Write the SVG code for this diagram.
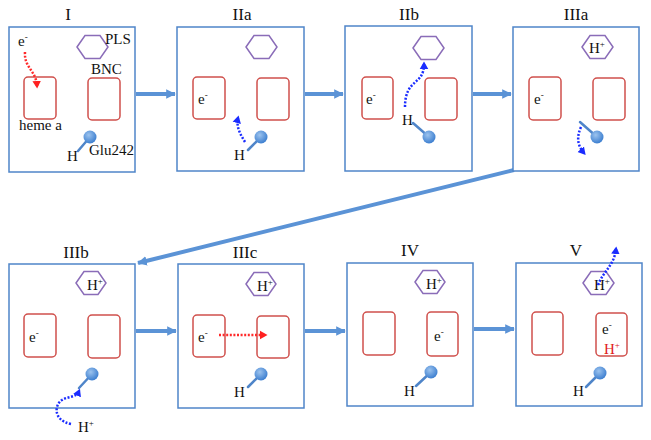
<svg xmlns="http://www.w3.org/2000/svg" width="651" height="440" viewBox="0 0 651 440">
<defs>
<radialGradient id="ballg" cx="0.4" cy="0.35" r="0.65">
<stop offset="0" stop-color="#9cc3ee"/>
<stop offset="1" stop-color="#3d7fd0"/>
</radialGradient>
<marker id="bigArrow" markerWidth="4" markerHeight="4" refX="2.2" refY="2" orient="auto" markerUnits="strokeWidth">
<path d="M0,0.8 L2.4,2 L0,3.2 z" fill="#5b93d6"/>
</marker>
<marker id="redHead" markerWidth="4" markerHeight="4" refX="2" refY="2" orient="auto" markerUnits="strokeWidth">
<path d="M0,0.3 L3,2 L0,3.7 z" fill="#ff2020"/>
</marker>
<marker id="blueHead" markerWidth="4" markerHeight="4" refX="2" refY="2" orient="auto" markerUnits="strokeWidth">
<path d="M0,0.3 L3,2 L0,3.7 z" fill="#1a2cff"/>
</marker>
</defs>
<style>
.panel{fill:#fff;stroke:#4f85c9;stroke-width:1.5}
.heme{fill:none;stroke:#d0504c;stroke-width:1.5}
.hex{fill:none;stroke:#8a6cb8;stroke-width:1.5}
.t{font-family:"Liberation Serif","Times New Roman",serif;fill:#111}
.title{font-size:17px;text-anchor:middle}
.lab{font-size:15px}
.sup{font-size:9px}
.ball{fill:url(#ballg)}
.stick{stroke:#4f85c9;stroke-width:2.5;stroke-linecap:round}
.flow{stroke:#5b93d6;stroke-width:4;fill:none;marker-end:url(#bigArrow)}
.rdot{fill:none;stroke:#ff2a2a;stroke-width:2.5;stroke-dasharray:2 1.6;marker-end:url(#redHead)}
.bdot{fill:none;stroke:#1a2cff;stroke-width:2.5;stroke-dasharray:2 1.6;marker-end:url(#blueHead)}
.red{fill:#e02020}
</style>

<g id="connectors">
<line class="flow" x1="136" y1="94" x2="175" y2="94"/>
<line class="flow" x1="305" y1="94" x2="343" y2="94"/>
<line class="flow" x1="473" y1="94" x2="511" y2="94"/>
<line class="flow" x1="514" y1="170" x2="138" y2="263"/>
<line class="flow" x1="136" y1="331" x2="176" y2="331"/>
<line class="flow" x1="305" y1="331" x2="345" y2="331"/>
<line class="flow" x1="474" y1="329" x2="514" y2="329"/>
</g>

<g id="panel-I">
<text class="t title" x="68" y="20">I</text>
<rect class="panel" x="9" y="27" width="126" height="145"/>
<polygon class="hex" points="77,47 85,35.5 100,35.5 108,47 100,58.5 85,58.5"/>
<text class="t lab" x="105" y="44">PLS</text>
<text class="t lab" x="91" y="74">BNC</text>
<rect class="heme" x="24" y="77" width="32" height="42" rx="4"/>
<rect class="heme" x="88" y="78" width="32" height="42" rx="4"/>
<text class="t lab" x="19" y="130">heme a</text>
<text class="t lab" x="18" y="46">e<tspan class="sup" dy="-6">-</tspan></text>
<path class="rdot" d="M25,52 C24,68 36,70 37,86"/>
<line class="stick" x1="90" y1="137" x2="78" y2="151"/>
<circle class="ball" cx="90" cy="137" r="6.5"/>
<text class="t lab" x="67" y="161">H</text>
<text class="t lab" x="89" y="155">Glu242</text>
</g>

<g id="panel-IIa">
<text class="t title" x="242" y="20">IIa</text>
<rect class="panel" x="177" y="27" width="127" height="144"/>
<polygon class="hex" points="246,47 254,35.5 269,35.5 277,47 269,58.5 254,58.5"/>
<rect class="heme" x="193" y="77" width="32" height="42" rx="4"/>
<rect class="heme" x="257" y="78" width="32" height="42" rx="4"/>
<text class="t lab" x="198" y="104">e<tspan class="sup" dy="-6">-</tspan></text>
<path class="bdot" d="M245,142 C240,134 236,126 238,118"/>
<line class="stick" x1="261" y1="137" x2="248" y2="150"/>
<circle class="ball" cx="261" cy="137" r="6.5"/>
<text class="t lab" x="234" y="160">H</text>
</g>

<g id="panel-IIb">
<text class="t title" x="409" y="20">IIb</text>
<rect class="panel" x="345" y="26" width="127" height="145"/>
<polygon class="hex" points="413,48 421,36.5 436,36.5 444,48 436,59.5 421,59.5"/>
<rect class="heme" x="362" y="77" width="31" height="42" rx="4"/>
<rect class="heme" x="425" y="78" width="32" height="42" rx="4"/>
<text class="t lab" x="366" y="104">e<tspan class="sup" dy="-6">-</tspan></text>
<path class="bdot" d="M405,107 C405,78 424,86 424,64"/>
<line class="stick" x1="429" y1="137" x2="413" y2="123"/>
<circle class="ball" cx="429" cy="137" r="6.5"/>
<text class="t lab" x="402" y="125">H</text>
</g>

<g id="panel-IIIa">
<text class="t title" x="576" y="20">IIIa</text>
<rect class="panel" x="513" y="27" width="126" height="144"/>
<polygon class="hex" points="582,47 590,35.5 605,35.5 613,47 605,58.5 590,58.5"/>
<text class="t lab" x="589" y="53">H<tspan class="sup" dy="-6">+</tspan></text>
<rect class="heme" x="529" y="77" width="32" height="43" rx="4"/>
<rect class="heme" x="593" y="78" width="32" height="42" rx="4"/>
<text class="t lab" x="534" y="104">e<tspan class="sup" dy="-6">-</tspan></text>
<line class="stick" x1="597" y1="137" x2="580" y2="122"/>
<circle class="ball" cx="597" cy="137" r="6.5"/>
<path class="bdot" d="M581,127 C576,138 578,146 584,153"/>
</g>

<g id="panel-IIIb">
<text class="t title" x="76" y="258">IIIb</text>
<rect class="panel" x="9" y="264" width="126" height="144"/>
<polygon class="hex" points="76,283 84,271.5 98,271.5 106,283 98,294.5 84,294.5"/>
<text class="t lab" x="87" y="290">H<tspan class="sup" dy="-6">+</tspan></text>
<rect class="heme" x="24" y="314" width="32" height="43" rx="4"/>
<rect class="heme" x="88" y="315" width="32" height="43" rx="4"/>
<text class="t lab" x="29" y="342">e<tspan class="sup" dy="-6">-</tspan></text>
<line class="stick" x1="92" y1="374" x2="79" y2="388"/>
<circle class="ball" cx="92" cy="374" r="6.5"/>
<path class="bdot" d="M71,424 C52,420 55,404 62,400 C68,396 76,398 79,391"/>
<text class="t lab" x="78" y="432">H<tspan class="sup" dy="-6">+</tspan></text>
</g>

<g id="panel-IIIc">
<text class="t title" x="245" y="258">IIIc</text>
<rect class="panel" x="178" y="264" width="126" height="144"/>
<polygon class="hex" points="246,284 254,272.5 268,272.5 276,284 268,295.5 254,295.5"/>
<text class="t lab" x="257" y="291">H<tspan class="sup" dy="-6">+</tspan></text>
<rect class="heme" x="193" y="315" width="32" height="42" rx="4"/>
<rect class="heme" x="257" y="316" width="32" height="42" rx="4"/>
<text class="t lab" x="198" y="342">e<tspan class="sup" dy="-6">-</tspan></text>
<path class="rdot" d="M219,335 L265,335"/>
<line class="stick" x1="261" y1="374" x2="248" y2="387"/>
<circle class="ball" cx="261" cy="374" r="6.5"/>
<text class="t lab" x="234" y="397">H</text>
</g>

<g id="panel-IV">
<text class="t title" x="410" y="256">IV</text>
<rect class="panel" x="347" y="263" width="126" height="143"/>
<polygon class="hex" points="415,282 423,270.5 437,270.5 445,282 437,293.5 423,293.5"/>
<text class="t lab" x="426" y="289">H<tspan class="sup" dy="-6">+</tspan></text>
<rect class="heme" x="363" y="312" width="32" height="43" rx="4"/>
<rect class="heme" x="427" y="312" width="31" height="44" rx="4"/>
<text class="t lab" x="434" y="341">e<tspan class="sup" dy="-6">-</tspan></text>
<line class="stick" x1="431" y1="372" x2="416" y2="386"/>
<circle class="ball" cx="431" cy="372" r="6.5"/>
<text class="t lab" x="404" y="396">H</text>
</g>

<g id="panel-V">
<text class="t title" x="576" y="256">V</text>
<rect class="panel" x="516" y="263" width="126" height="143"/>
<polygon class="hex" points="583,283 591,271.5 606,271.5 614,283 606,294.5 591,294.5"/>
<text class="t lab" x="594" y="290">H<tspan class="sup" dy="-6">+</tspan></text>
<rect class="heme" x="532" y="312" width="31" height="43" rx="4"/>
<rect class="heme" x="596" y="313" width="31" height="43" rx="4"/>
<text class="t lab" x="602" y="334">e<tspan class="sup" dy="-6">-</tspan></text>
<text class="t lab red" x="604" y="354">H<tspan class="sup" dy="-6">+</tspan></text>
<path class="bdot" d="M598,285 C604,270 614,266 616,249"/>
<line class="stick" x1="600" y1="373" x2="586" y2="387"/>
<circle class="ball" cx="600" cy="373" r="6.5"/>
<text class="t lab" x="573" y="396">H</text>
</g>
</svg>
